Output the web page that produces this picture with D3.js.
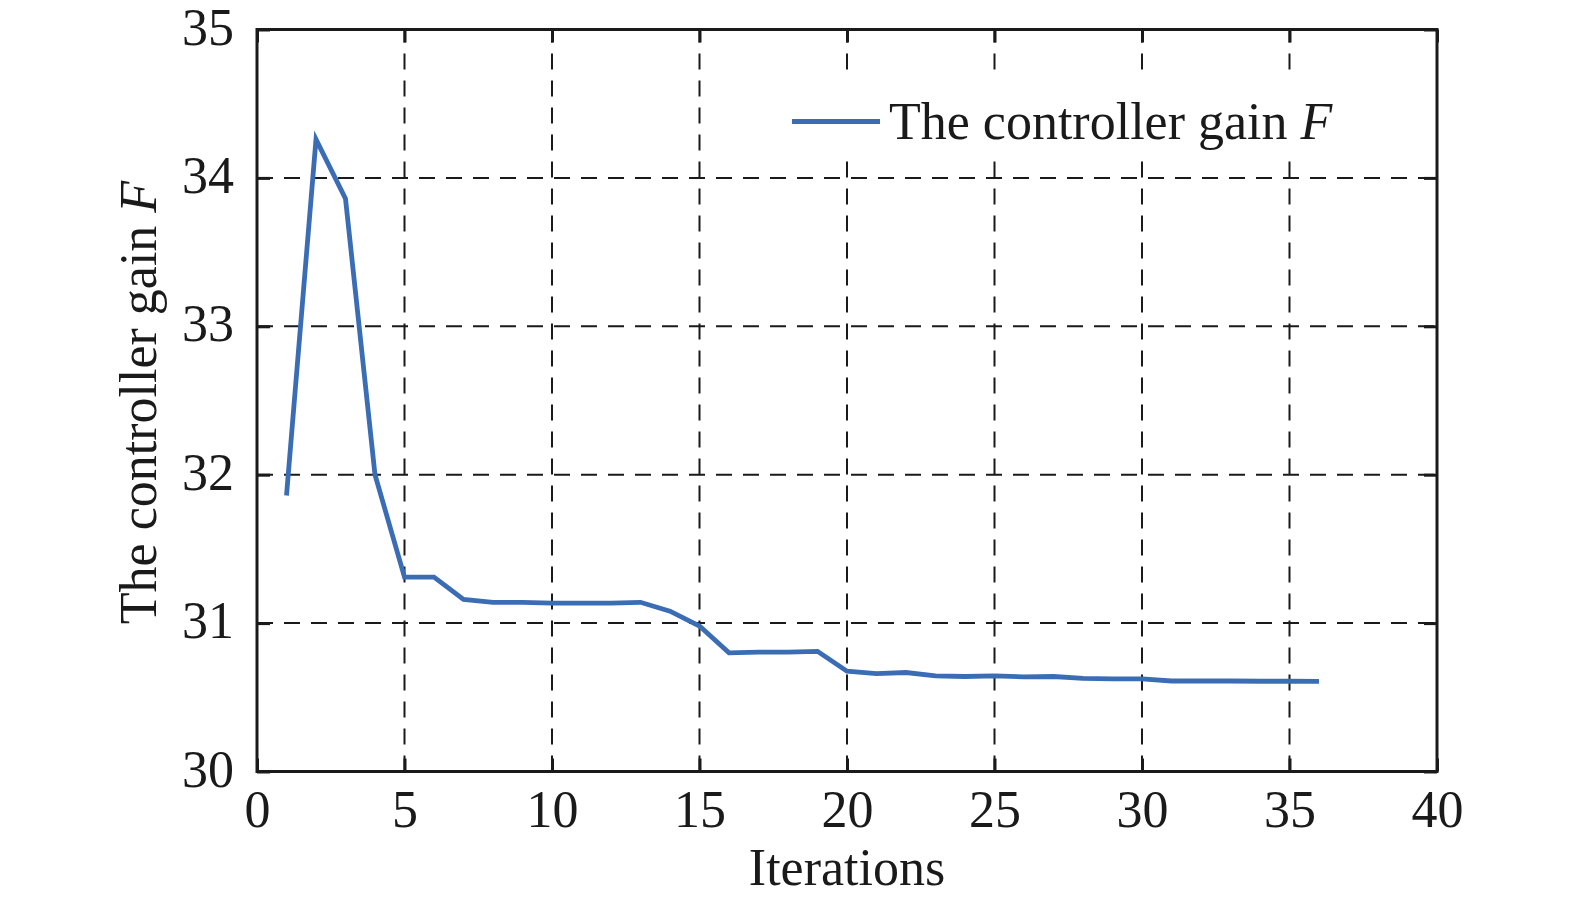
<!DOCTYPE html>
<html><head><meta charset="utf-8">
<script src="https://cdn.jsdelivr.net/npm/d3@7"></script>
<style>body{margin:0;background:#fff}svg{display:block}text{font-family:"Liberation Serif","Times New Roman",serif;fill:#1a1a1a}</style>
</head><body><svg id="c" width="1575" height="904"></svg>
<script>
const iterations = [1,2,3,4,5,6,7,8,9,10,11,12,13,14,15,16,17,18,19,20,21,22,23,24,25,26,27,28,29,30,31,32,33,34,35,36];
const gainF = [31.86,34.26,33.86,32.0,31.31,31.31,31.16,31.14,31.14,31.135,31.135,31.135,31.14,31.08,30.98,30.80,30.805,30.805,30.81,30.676,30.66,30.667,30.645,30.64,30.645,30.638,30.64,30.628,30.624,30.624,30.61,30.61,30.61,30.608,30.608,30.607];
const xTicks = [0,5,10,15,20,25,30,35,40];
const yTicks = [30,31,32,33,34,35];
const seriesName = "The controller gain ";

const svg = d3.select("#c");
const L = 257, R = 1437, T = 29.5, B = 771.5;
const x = d3.scaleLinear().domain([0,40]).range([L,R]);
const y = d3.scaleLinear().domain([30,35]).range([B,T]);
const ink = "#1a1a1a";
const blue = "#3b6db5";

// grid
const g = svg.append("g");
g.selectAll(".vg").data(xTicks.slice(1,-1)).enter().append("line")
  .attr("x1",d=>x(d)).attr("x2",d=>x(d)).attr("y1",B).attr("y2",T)
  .attr("stroke",ink).attr("stroke-width",2).attr("stroke-dasharray","16,11");
g.selectAll(".hg").data(yTicks.slice(1,-1)).enter().append("line")
  .attr("y1",d=>y(d)).attr("y2",d=>y(d)).attr("x1",L).attr("x2",R)
  .attr("stroke",ink).attr("stroke-width",2).attr("stroke-dasharray","16,11");

// axes with inner ticks
const fs = 52;
const ax = svg.append("g").attr("transform",`translate(0,${B})`)
  .call(d3.axisBottom(x).tickValues(xTicks).tickSize(-13).tickPadding(19).tickFormat(d3.format("d")));
const axT = svg.append("g").attr("transform",`translate(0,${T})`)
  .call(d3.axisTop(x).tickValues(xTicks).tickSize(-13).tickFormat(""));
const ay = svg.append("g").attr("transform",`translate(${L},0)`)
  .call(d3.axisLeft(y).tickValues(yTicks).tickSize(-13).tickPadding(23).tickFormat(d3.format("d")));
const ayR = svg.append("g").attr("transform",`translate(${R},0)`)
  .call(d3.axisRight(y).tickValues(yTicks).tickSize(-13).tickFormat(""));
[ax,axT,ay,ayR].forEach(a=>{
  a.select(".domain").remove();
  a.selectAll(".tick line").attr("stroke",ink).attr("stroke-width",3);
  a.selectAll("text").style("font-size",fs+"px").attr("fill",ink);
});
ay.selectAll("text").attr("dy","0.28em");
ax.selectAll("text").attr("dy","0.7em");

// box
svg.append("rect").attr("x",L).attr("y",T).attr("width",R-L).attr("height",B-T)
  .attr("fill","none").attr("stroke",ink).attr("stroke-width",3);

// line
const line = d3.line().x((d,i)=>x(iterations[i])).y(d=>y(d));
svg.append("path").datum(gainF).attr("d",line).attr("fill","none")
  .attr("stroke",blue).attr("stroke-width",4.8).attr("stroke-linejoin","miter");

// axis labels
svg.append("text").attr("x",(L+R)/2).attr("y",885).attr("text-anchor","middle")
  .style("font-size",fs+"px").text("Iterations");
const yl = svg.append("text").attr("transform",`translate(156,${(T+B)/2 + 2}) rotate(-90)`)
  .attr("text-anchor","middle").style("font-size",fs+"px");
yl.append("tspan").text(seriesName);
yl.append("tspan").attr("font-style","italic").text("F");

// legend (white background, no border)
svg.append("rect").attr("x",778).attr("y",76).attr("width",640).attr("height",77).attr("fill","#fff");
svg.append("line").attr("x1",792).attr("x2",880).attr("y1",121.5).attr("y2",121.5)
  .attr("stroke",blue).attr("stroke-width",4.8);
const lt = svg.append("text").attr("x",889).attr("y",139).style("font-size",fs+"px");
lt.append("tspan").text(seriesName);
lt.append("tspan").attr("font-style","italic").text("F");
</script></body></html>
